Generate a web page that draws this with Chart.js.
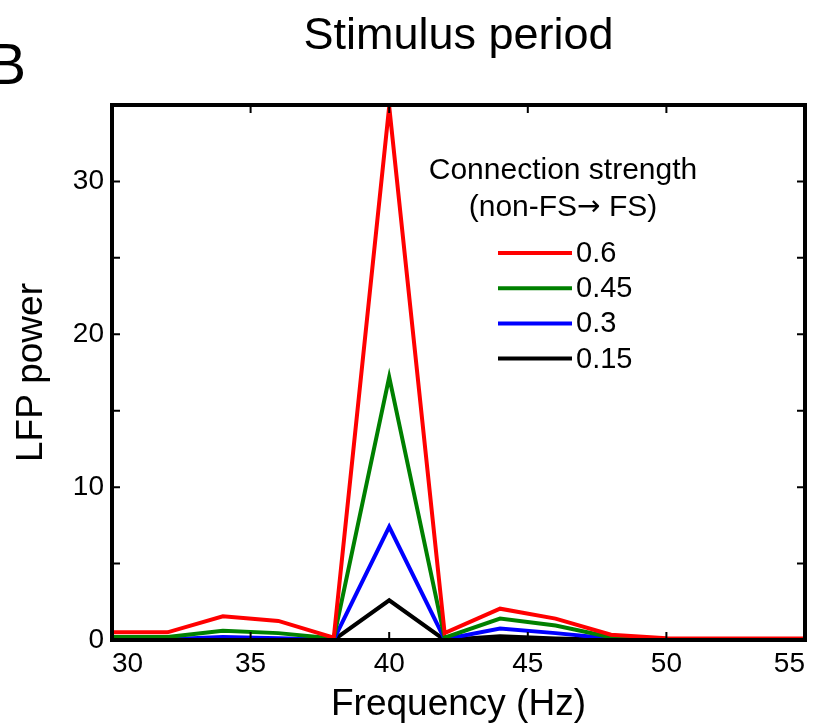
<!DOCTYPE html>
<html>
<head>
<meta charset="utf-8">
<title>Stimulus period</title>
<script src="https://cdn.jsdelivr.net/npm/chart.js@4.4.1/dist/chart.umd.min.js"></script>
<style>
    html, body { margin: 0; padding: 0; background: #fff; }
    #wrap { width: 816px; height: 727px; position: relative; }
</style>
</head>
<body>
<div id="wrap"><canvas id="lfpChart" width="816" height="727"></canvas></div>
<script>
// Chart data
const frequencies = [30, 32, 34, 36, 38, 40, 42, 44, 46, 48, 50, 52, 54, 56];
const strengthLabels = ['0.6', '0.45', '0.3', '0.15'];
const power06  = [0.5, 0.5, 1.55, 1.25, 0.15, 34.9, 0.45, 2.05, 1.4, 0.35, 0.12, 0.1, 0.1, 0.1];
const power045 = [0.2, 0.2, 0.6, 0.45, 0.1, 17.2, 0.15, 1.4, 0.95, 0.18, 0.05, 0.05, 0.05, 0.05];
const power03  = [0.05, 0.05, 0.2, 0.12, 0.02, 7.4, 0.05, 0.75, 0.45, 0.1, 0.02, 0.02, 0.02, 0.02];
const power015 = [0, 0, 0.05, 0.03, 0, 2.6, 0, 0.25, 0.1, 0.02, 0, 0, 0, 0];
const xTicks = [30, 35, 40, 45, 50, 55];
const yTicks = [0, 5, 10, 15, 20, 25, 30, 35];
const yLabelled = [0, 10, 20, 30];

const FONT = "'Liberation Sans', Arial, sans-serif";
Chart.defaults.font.family = FONT;
Chart.defaults.color = '#000';

function toPoints(values) {
    return frequencies.map((f, i) => ({ x: f, y: values[i] }));
}

// centred text made of runs in different fonts (wide arrow from DejaVu)
function fillRuns(ctx, runs, cx, y) {
    let total = 0;
    runs.forEach(r => { ctx.font = r.font; r.w = ctx.measureText(r.text).width; total += r.w; });
    let x = cx - total / 2;
    ctx.textAlign = 'left';
    runs.forEach(r => { ctx.font = r.font; ctx.fillText(r.text, x, y); x += r.w; });
}

// title, panel letter, inward ticks, box and legend
const framePlugin = {
    id: 'frame',
    afterDraw(chart) {
        const { ctx, chartArea: a, scales } = chart;
        ctx.save();

        ctx.fillStyle = '#000';
        ctx.textBaseline = 'middle';
        ctx.textAlign = 'center';
        ctx.font = '45px ' + FONT;
        ctx.fillText('Stimulus period', (a.left + a.right) / 2, 37);
        ctx.textAlign = 'left';
        ctx.font = '57px ' + FONT;
        ctx.fillText('B', -12, 68);

        // inward tick marks
        ctx.strokeStyle = '#000';
        ctx.lineWidth = 2;
        ctx.beginPath();
        scales.y.ticks.forEach(t => {
            const py = scales.y.getPixelForValue(t.value);
            ctx.moveTo(a.left, py); ctx.lineTo(a.left + 8, py);
            ctx.moveTo(a.right, py); ctx.lineTo(a.right - 8, py);
        });
        scales.x.ticks.forEach(t => {
            const px = scales.x.getPixelForValue(t.value);
            ctx.moveTo(px, a.bottom); ctx.lineTo(px, a.bottom - 8);
            ctx.moveTo(px, a.top); ctx.lineTo(px, a.top + 8);
        });
        ctx.stroke();

        ctx.lineWidth = 4;
        ctx.strokeRect(a.left, a.top, a.right - a.left, a.bottom - a.top);

        // legend
        ctx.textAlign = 'center';
        ctx.font = '30px ' + FONT;
        ctx.fillText('Connection strength', 563, 171);
        fillRuns(ctx, [
            { text: '(non-FS', font: '30px ' + FONT },
            { text: '\u2192', font: '28px "DejaVu Sans"' },
            { text: ' FS)', font: '30px ' + FONT }
        ], 563, 208);
        ctx.textAlign = 'left';
        ctx.font = '29px ' + FONT;
        chart.data.datasets.forEach((ds, i) => {
            const ly = 253 + i * 35.2;
            ctx.strokeStyle = ds.borderColor;
            ctx.lineWidth = 4;
            ctx.beginPath();
            ctx.moveTo(498, ly); ctx.lineTo(572, ly);
            ctx.stroke();
            ctx.fillText(ds.label, 576, ly + 1);
        });
        ctx.restore();
    }
};

function initChart() {
    const ctx = document.getElementById('lfpChart').getContext('2d');
    const colors = ['#FF0000', '#008000', '#0000FF', '#000000'];
    const series = [power06, power045, power03, power015];

    new Chart(ctx, {
        type: 'line',
        data: {
            datasets: series.map((s, i) => ({
                label: strengthLabels[i],
                data: toPoints(s),
                borderColor: colors[i],
                borderWidth: 4,
                pointRadius: 0,
                tension: 0,
                fill: false
            }))
        },
        options: {
            responsive: false,
            animation: false,
            layout: { padding: { top: 105, right: 11, left: 0, bottom: 0 } },
            plugins: {
                legend: { display: false },
                tooltip: { enabled: false }
            },
            scales: {
                x: {
                    type: 'linear',
                    min: 30,
                    max: 55,
                    afterBuildTicks: scale => { scale.ticks = xTicks.map(v => ({ value: v })); },
                    afterFit: scale => {
                        scale.height = 87;
                        scale.paddingLeft = 0;
                        scale.paddingRight = 0;
                    },
                    grid: { display: false, drawTicks: false },
                    border: { display: false },
                    ticks: { font: { size: 28 }, padding: 7, maxRotation: 0, autoSkip: false, align: 'inner' },
                    title: {
                        display: true,
                        text: 'Frequency (Hz)',
                        font: { size: 37 },
                        padding: { top: 0, bottom: 0 }
                    }
                },
                y: {
                    min: 0,
                    max: 35,
                    afterBuildTicks: scale => { scale.ticks = yTicks.map(v => ({ value: v })); },
                    afterFit: scale => {
                        scale.width = 112;
                        scale.paddingTop = 0;
                        scale.paddingBottom = 0;
                    },
                    grid: { display: false, drawTicks: false },
                    border: { display: false },
                    ticks: {
                        font: { size: 28 },
                        padding: 8,
                        autoSkip: false,
                        callback: v => yLabelled.includes(v) ? String(v) : ''
                    },
                    title: {
                        display: true,
                        text: 'LFP power',
                        font: { size: 37 },
                        padding: { top: 10, bottom: 0 }
                    }
                }
            }
        },
        plugins: [framePlugin]
    });
}

document.addEventListener('DOMContentLoaded', initChart);
</script>
</body>
</html>
